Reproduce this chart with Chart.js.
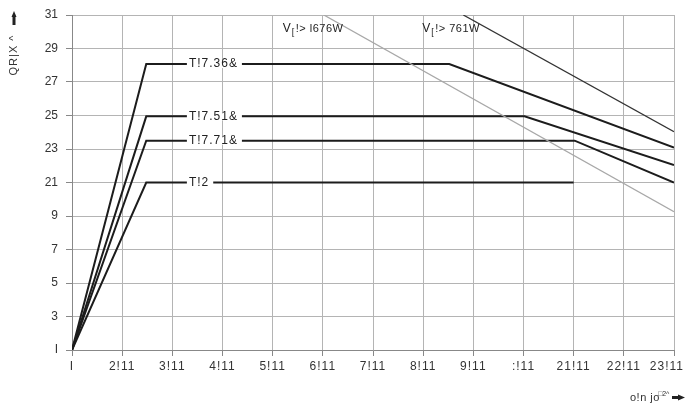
<!DOCTYPE html>
<html>
<head>
<meta charset="utf-8">
<script src="https://cdn.jsdelivr.net/npm/chart.js@4/dist/chart.umd.min.js"></script>
<style>
  html, body { margin: 0; padding: 0; background: #fff; }
  #wrap { width: 685px; height: 408px; }
</style>
</head>
<body>
<div id="wrap"><canvas id="chart" width="685" height="408"></canvas></div>
<script>
// 目盛ラベル（元画像の文字化けのまま）
const xTickLabels = ["I", "2!11", "3!11", "4!11", "5!11", "6!11", "7!11", "8!11", "9!11", ":!11", "21!11", "22!11", "23!11"];
const yTickLabels = ["I", "3", "5", "7", "9", "21", "23", "25", "27", "29", "31"];

// 太線4本
const curveA_x = [0, 1.48, 7.52, 12];
const curveA_y = [0, 17.07, 17.07, 12.08];
const curveB_x = [0, 1.48, 9.02, 12];
const curveB_y = [0, 13.95, 13.95, 11.04];
const curveC_x = [0, 1.48, 10.02, 12];
const curveC_y = [0, 12.5, 12.5, 10.0];
const curveD_x = [0, 1.48, 10.0];
const curveD_y = [0, 10.0, 10.0];

// 限界線
const limitDark_x = [7.8, 12];
const limitDark_y = [20, 13.03];
const limitGray_x = [5.02, 12];
const limitGray_y = [20, 8.26];

const curveLabels = ["T!7.36&", "T!7.51&", "T!7.71&", "T!2"];
const limitLabels = ["!> l676W", "!> 761W"];

const FONT = "Liberation Sans, Arial";

const toPoints = (xs, ys) => xs.map((x, i) => ({ x: x, y: ys[i] }));

const thick = (xs, ys) => ({
  data: toPoints(xs, ys),
  borderColor: "#1c1c1c",
  borderWidth: 2,
  pointRadius: 0,
  showLine: true,
});

const ctx = document.getElementById("chart").getContext("2d");

new Chart(ctx, {
  type: "scatter",
  data: {
    datasets: [
      {
        data: toPoints(limitGray_x, limitGray_y),
        borderColor: "#a8a8a8",
        borderWidth: 1.3,
        pointRadius: 0,
        showLine: true,
      },
      {
        data: toPoints(limitDark_x, limitDark_y),
        borderColor: "#333",
        borderWidth: 1.3,
        pointRadius: 0,
        showLine: true,
      },
      thick(curveA_x, curveA_y),
      thick(curveB_x, curveB_y),
      thick(curveC_x, curveC_y),
      thick(curveD_x, curveD_y),
    ],
  },
  options: {
    responsive: false,
    animation: false,
    layout: { padding: { top: 15, right: 11, left: 0, bottom: 0 } },
    plugins: {
      legend: { display: false },
      tooltip: { enabled: false },
    },
    scales: {
      x: {
        type: "linear",
        min: 0,
        max: 12,
        ticks: {
          stepSize: 1,
          display: false,
        },
        grid: { color: "#b4b4b4", tickLength: 6, tickColor: "#888" },
        border: { color: "#888", width: 1 },
        afterFit: (scale) => {
          scale.height = 58;
          scale.paddingLeft = 0;
          scale.paddingRight = 0;
        },
      },
      y: {
        min: 0,
        max: 20,
        ticks: {
          stepSize: 2,
          color: "#333",
          font: { family: FONT, size: 12 },
          padding: 8,
          callback: (v) => yTickLabels[v / 2],
        },
        grid: { color: "#b4b4b4", tickLength: 6, tickColor: "#888" },
        border: { color: "#888", width: 1 },
        afterFit: (scale) => {
          scale.width = 72;
          scale.paddingTop = 0;
          scale.paddingBottom = 0;
        },
      },
    },
  },
  plugins: [
    {
      id: "annotations",
      afterDatasetsDraw(chart) {
        const { ctx, scales } = chart;
        const xs = scales.x, ys = scales.y;
        ctx.save();
        ctx.textBaseline = "middle";

        // x目盛ラベル（右端ははみ出さないよう寄せる）
        ctx.font = "12px " + FONT;
        ctx.letterSpacing = "1px";
        ctx.fillStyle = "#333";
        ctx.textAlign = "left";
        xTickLabels.forEach((lab, i) => {
          const w = ctx.measureText(lab).width;
          let left = xs.getPixelForValue(i) - w / 2;
          left = Math.min(left, 684 - w);
          ctx.fillText(lab, left, 367);
        });

        // 太線上のラベル（白抜き）
        const levels = [curveA_y[1], curveB_y[1], curveC_y[1], curveD_y[1]];
        levels.forEach((lv, i) => {
          const px = xs.getPixelForValue(2.33);
          const py = ys.getPixelForValue(lv);
          const w = ctx.measureText(curveLabels[i]).width;
          ctx.fillStyle = "#fff";
          ctx.fillRect(px - 2, py - 4, w + 6, 8);
          ctx.fillStyle = "#222";
          ctx.fillText(curveLabels[i], px, py);
        });

        // 限界線ラベル
        ctx.fillStyle = "#222";
        const limX = [4.2, 6.98];
        limX.forEach((lx, i) => {
          const px = xs.getPixelForValue(lx);
          const py = 29;
          ctx.letterSpacing = "0px";
          ctx.font = "12px " + FONT;
          ctx.fillText("V", px, py);
          ctx.font = "9px " + FONT;
          ctx.fillText("[", px + 9, py + 4);
          ctx.font = "11px " + FONT;
          ctx.letterSpacing = "0.5px";
          ctx.fillText(limitLabels[i], px + 13, py);
        });

        // y軸タイトル
        ctx.save();
        ctx.translate(14, 55);
        ctx.rotate(-Math.PI / 2);
        ctx.font = "11px " + FONT;
        ctx.letterSpacing = "1px";
        ctx.textAlign = "center";
        ctx.fillStyle = "#333";
        ctx.fillText("QR|X ^", 0, 0);
        ctx.restore();
        ctx.fillStyle = "#222";
        ctx.beginPath();
        ctx.moveTo(14, 11);
        ctx.lineTo(11.5, 17);
        ctx.lineTo(16.5, 17);
        ctx.closePath();
        ctx.fill();
        ctx.fillRect(12.5, 16, 3, 9);

        // x軸タイトル
        ctx.font = "11px " + FONT;
        ctx.letterSpacing = "0.5px";
        ctx.textAlign = "left";
        ctx.fillStyle = "#333";
        ctx.fillText("o!n jo", 630, 398);
        ctx.font = "7px " + FONT;
        ctx.letterSpacing = "0px";
        ctx.fillText("\u25A12^", 658, 394);
        ctx.fillStyle = "#222";
        ctx.fillRect(672, 396, 7, 3);
        ctx.beginPath();
        ctx.moveTo(685, 397.5);
        ctx.lineTo(678, 394.5);
        ctx.lineTo(678, 400.5);
        ctx.closePath();
        ctx.fill();
        ctx.restore();
      },
    },
  ],
});
</script>
</body>
</html>
